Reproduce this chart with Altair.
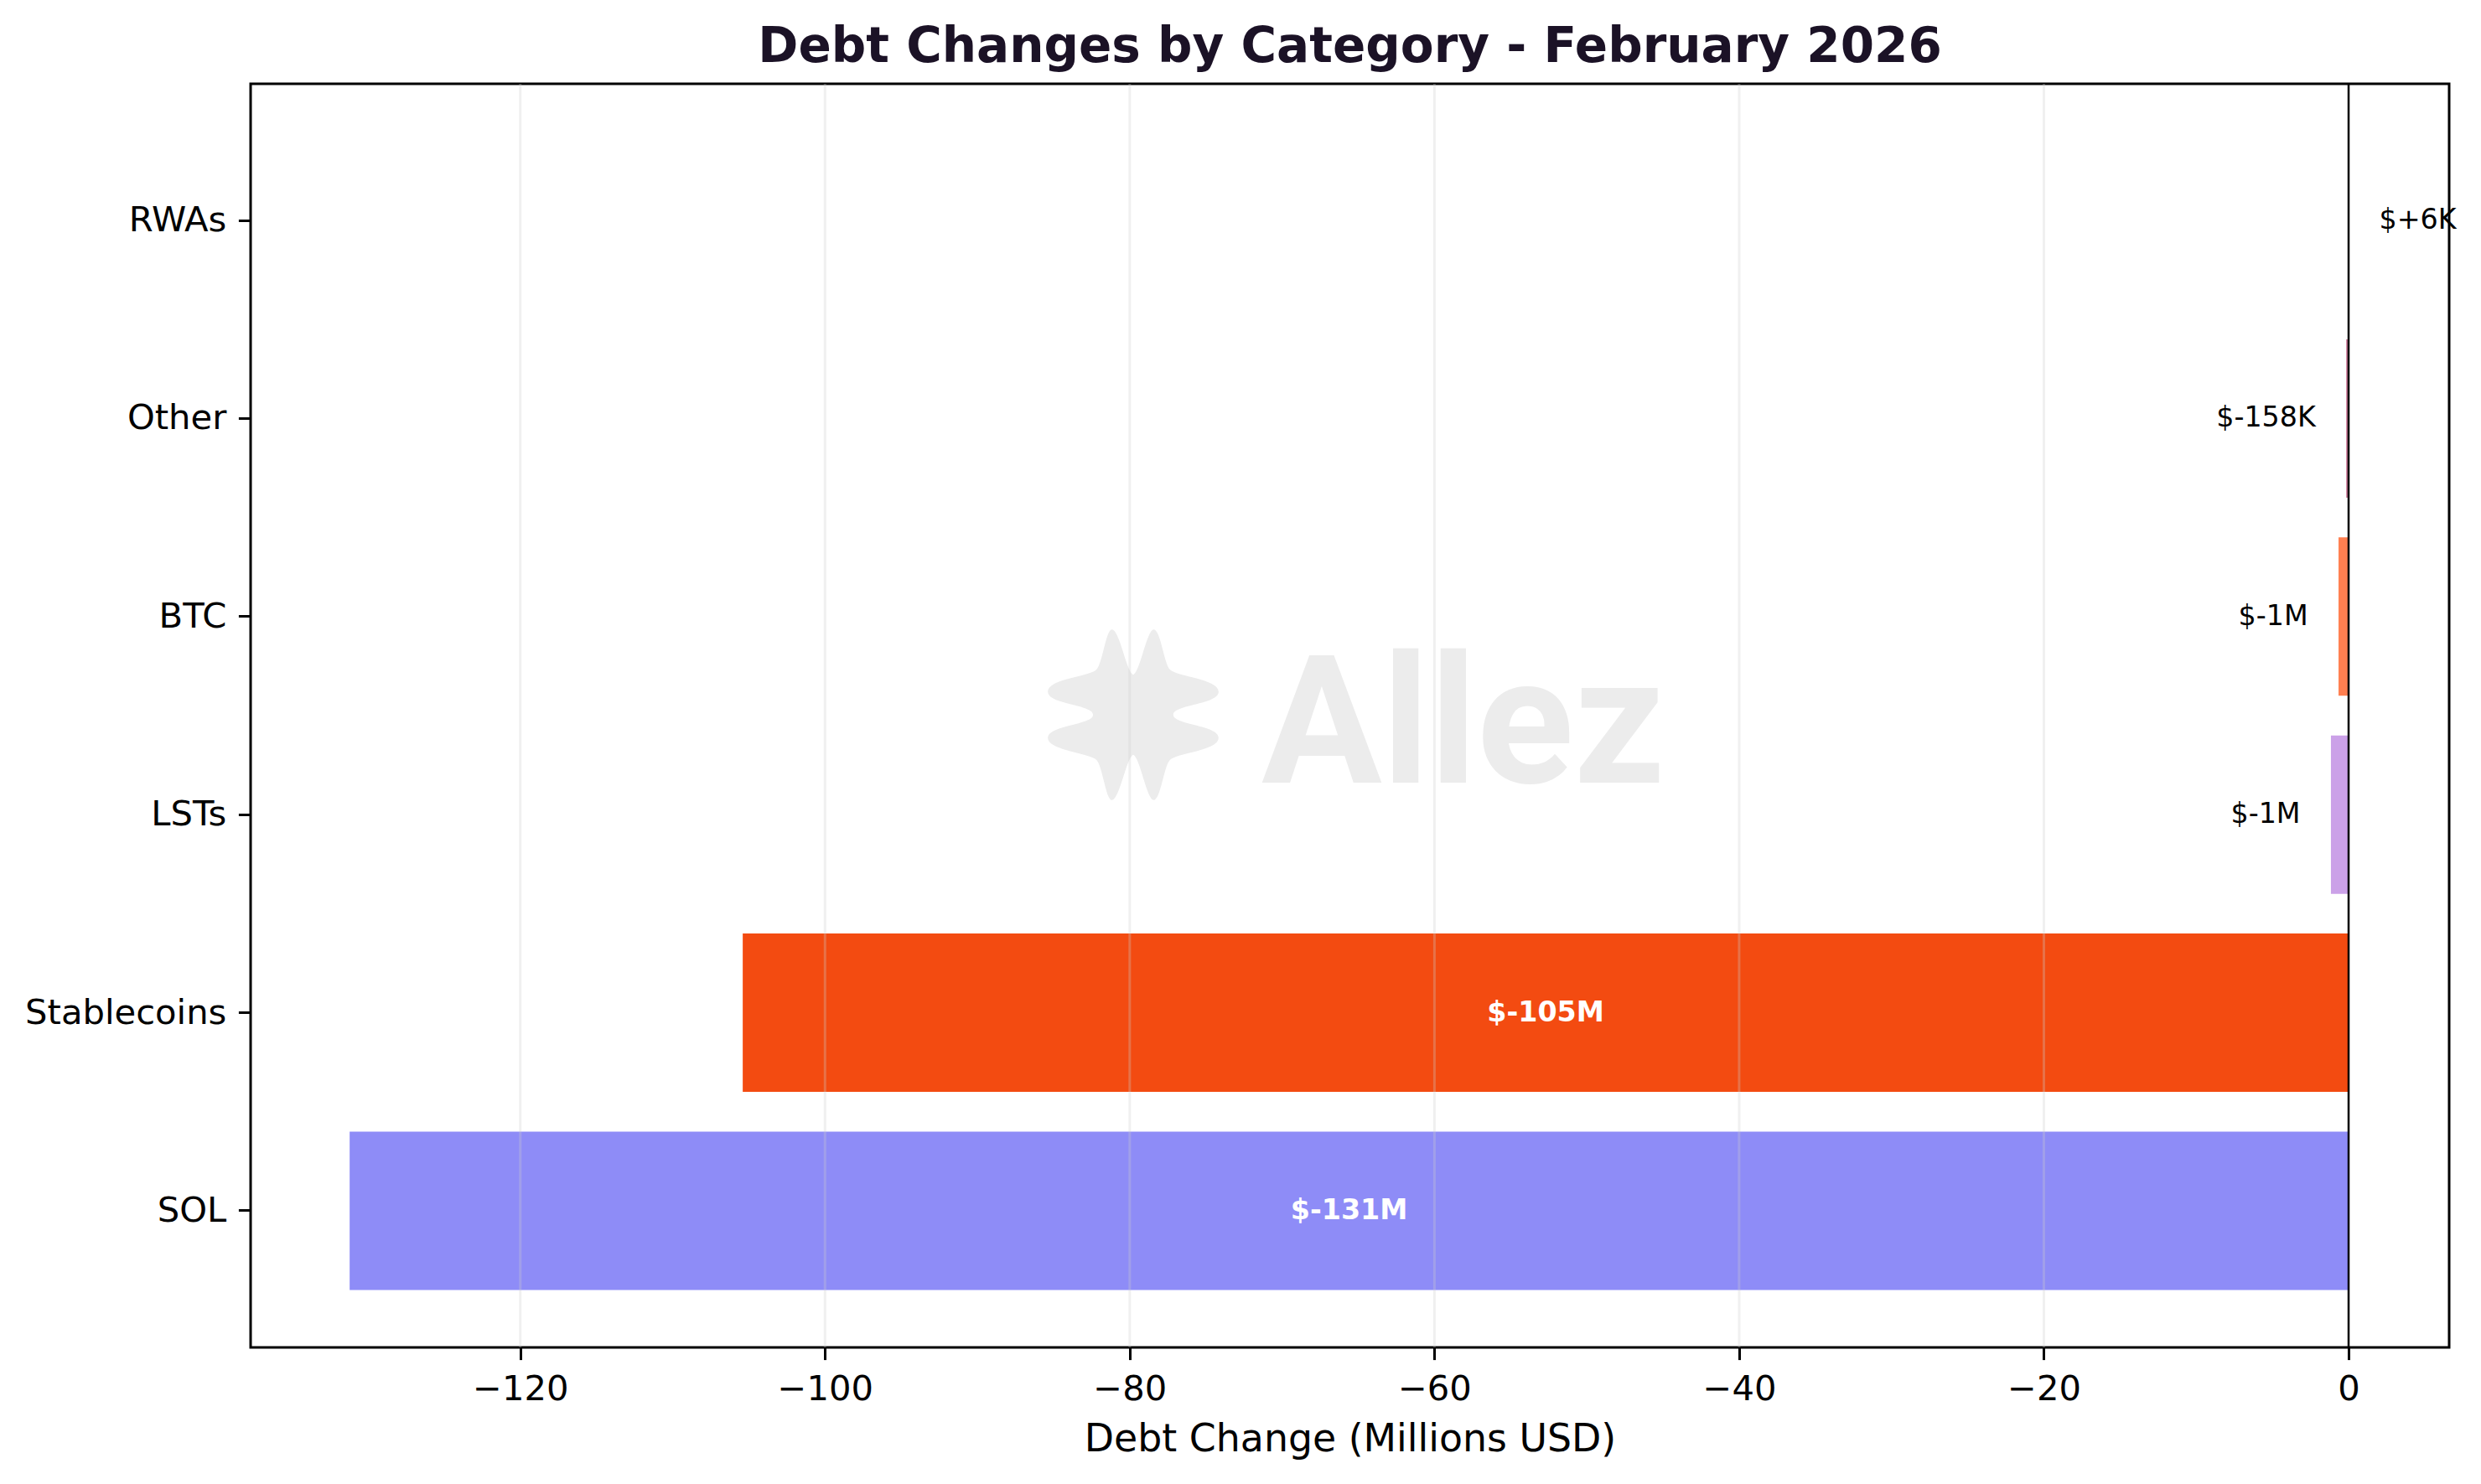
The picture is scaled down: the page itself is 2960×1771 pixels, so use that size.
import altair as alt
import pandas as pd

categories = ["RWAs", "Other", "BTC", "LSTs", "Stablecoins", "SOL"]
values = [0.006, -0.158, -0.66, -1.16, -105.4, -131.2]
labels = ["$+6K", "$-158K", "$-1M", "$-1M", "$-105M", "$-131M"]
colors = ["#7FB3D5", "#CC7A99", "#FF7F50", "#CBA1E8", "#F34B11", "#8E8CF7"]
x_ticks = [-120, -100, -80, -60, -40, -20, 0]
title_text = "Debt Changes by Category - February 2026"

rows = []
for c, v, l, col in zip(categories, values, labels, colors):
    if abs(v) > 10:
        kind, lx = "inside", v / 2
    elif v < 0:
        kind, lx = "neg", v - 2
    else:
        kind, lx = "pos", v + 2
    rows.append({"category": c, "value": v, "label": l, "color": col, "kind": kind, "lx": lx})
df = pd.DataFrame(rows)
grid_df = pd.DataFrame({"tick": x_ticks})

W, H = 2623, 1508
FONT = "DejaVu Sans"

xscale = alt.Scale(domain=[-137.7, 6.6], nice=False, zero=False)
yscale = alt.Scale(domain=categories, paddingInner=0.2, paddingOuter=0.29)

logo_path = (
    "M -0.25 -1 C -0.16 -1 -0.08 -0.5 0 -0.47 C 0.08 -0.5 0.16 -1 0.24 -1 "
    "C 0.32 -1 0.36 -0.6 0.43 -0.53 C 0.5 -0.45 1 -0.42 1 -0.27 "
    "C 1 -0.12 0.47 -0.12 0.47 0 C 0.47 0.12 1 0.12 1 0.27 "
    "C 1 0.42 0.5 0.45 0.43 0.53 C 0.36 0.6 0.32 1 0.24 1 "
    "C 0.16 1 0.08 0.5 0 0.47 C -0.08 0.5 -0.16 1 -0.25 1 "
    "C -0.32 1 -0.36 0.6 -0.43 0.53 C -0.5 0.45 -1 0.42 -1 0.27 "
    "C -1 0.12 -0.47 0.12 -0.47 0 C -0.47 -0.12 -1 -0.12 -1 -0.27 "
    "C -1 -0.42 -0.5 -0.45 -0.43 -0.53 C -0.36 -0.6 -0.32 -1 -0.25 -1 Z"
)

wm_df = pd.DataFrame({"t": ["Allez"], "title": [title_text]})

logo = alt.Chart(wm_df).mark_point(
    shape=logo_path, filled=True, color="#ECECEC", opacity=1, size=41500, strokeWidth=0
).encode(x=alt.value(1053), y=alt.value(753))

wm_text = alt.Chart(wm_df).mark_text(
    font="Roboto", fontWeight="bold", fontSize=214,
    color="#ECECEC", align="left", baseline="alphabetic"
).encode(x=alt.value(1206), y=alt.value(834), text="t:N")

title = alt.Chart(wm_df).mark_text(
    font=FONT, fontWeight="bold", fontSize=58, color="#1B1226",
    align="center", baseline="alphabetic"
).encode(x=alt.value(W / 2), y=alt.value(-26), text="title:N")

base = alt.Chart(df)

bars = base.mark_bar(size=189).encode(
    x=alt.X("value:Q", scale=xscale,
            axis=alt.Axis(values=x_ticks, title="Debt Change (Millions USD)",
                          labelExpr="replace(datum.label, '-', '\u2212')",
                          grid=False, titleY=123, titleBaseline="alphabetic")),
    x2=alt.datum(0),
    y=alt.Y("category:N", scale=yscale, sort=categories,
            axis=alt.Axis(title=None, grid=False, labelLimit=0)),
    color=alt.Color("color:N", scale=None),
)

grid = alt.Chart(grid_df).transform_filter("datum.tick != 0").mark_rule(
    color="#cccccc", opacity=0.3, strokeWidth=3
).encode(x=alt.X("tick:Q", scale=xscale))

zero = alt.Chart(wm_df).transform_calculate(z="0").mark_rule(
    color="black", strokeWidth=2.5
).encode(x=alt.X("z:Q", scale=xscale))

inside = base.transform_filter("datum.kind == 'inside'").mark_text(
    font=FONT, fontWeight="bold", fontSize=33.3, color="white", align="center", baseline="middle"
).encode(x=alt.X("lx:Q", scale=xscale), y=alt.Y("category:N", scale=yscale, sort=categories), text="label:N")

neg = base.transform_filter("datum.kind == 'neg'").mark_text(
    font=FONT, fontSize=33.3, color="black", align="right", baseline="middle"
).encode(x=alt.X("lx:Q", scale=xscale), y=alt.Y("category:N", scale=yscale, sort=categories), text="label:N")

pos = base.transform_filter("datum.kind == 'pos'").mark_text(
    font=FONT, fontSize=33.3, color="black", align="left", baseline="middle"
).encode(x=alt.X("lx:Q", scale=xscale), y=alt.Y("category:N", scale=yscale, sort=categories), text="label:N")

chart = alt.layer(logo, wm_text, bars, grid, zero, inside, neg, pos, title).properties(
    width=W, height=H,
    autosize=alt.AutoSizeParams(type="none"),
    padding={"left": 291, "top": 92, "right": 30, "bottom": 150},
).configure_view(
    stroke="black", strokeWidth=3
).configure_axis(
    labelFont=FONT, labelFontSize=41.7, labelColor="black",
    titleFont=FONT, titleFontSize=45.8, titleColor="black", titleFontWeight="normal",
    domain=False, tickColor="black", tickWidth=3, tickSize=14.6, labelPadding=14.6,
)

chart.save("out.html", embed_options={"renderer": "svg", "actions": False})
